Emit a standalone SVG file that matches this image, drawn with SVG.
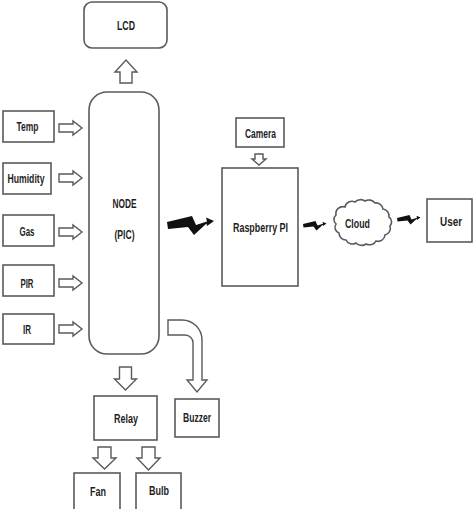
<svg xmlns="http://www.w3.org/2000/svg" xmlns:xlink="http://www.w3.org/1999/xlink" width="474" height="509" viewBox="0 0 474 509">
<style>
.box{fill:#fff;stroke:#5a5a5a;stroke-width:1.6}
.arr{fill:#fff;stroke:#5a5a5a;stroke-width:1.4;stroke-linejoin:miter}
.bolt{fill:#111}
text{font-family:"Liberation Sans",Arial,sans-serif;font-weight:bold;font-size:13px;fill:#1e1e1e;text-anchor:middle}
</style>
<defs>
<path id="bolt" d="M0,6 L25,0 L29,9 L40,5.5 L39,1.5 L47,5 L40,10 L39.5,7.5 L27,19 L21,11 L1,13 Z"/>
<path id="rarr" d="M0,-4 H14 V-7 L23,0 L14,7 V4 H0 Z"/>
<path id="darr" d="M-6,0 H6 V12 H11 L0,23 L-11,12 H-6 Z"/>
</defs>
<rect width="474" height="509" fill="#fff"/>
<g id="connectors">
<path class="arr" d="M120,83 V72 H115 L126,60 L137,72 H132 V83 Z"/>
<use href="#rarr" class="arr" x="59" y="128"/>
<use href="#rarr" class="arr" x="59" y="178"/>
<use href="#rarr" class="arr" x="59" y="232"/>
<use href="#rarr" class="arr" x="59" y="283"/>
<use href="#rarr" class="arr" x="59" y="329"/>
<use href="#darr" class="arr" x="125.5" y="367"/>
<path class="arr" d="M104.5,447 H111 V458 H116 L104.5,469 L93,458 H98 V447 Z"/>
<path class="arr" d="M148.5,447 H155 V458 H160 L148.5,470 L137,458 H142 V447 Z"/>
<path class="arr" d="M255,154 H263 V159 H266 L259,165 L252,159 H255 Z"/>
<path class="arr" d="M168,320 H182 A20,20 0 0 1 202,340 V380 H207 L197,392 L187,380 H193 V343 A8,8 0 0 0 185,335 H168 Z"/>
<use href="#bolt" class="bolt" x="167" y="216"/>
<use href="#bolt" class="bolt" transform="translate(303,221) scale(0.5)"/>
<use href="#bolt" class="bolt" transform="translate(397,215) scale(0.5)"/>
</g>
<g id="lcd"><rect class="box" x="84" y="2" width="83" height="46" rx="8"/><text x="126" y="30" textLength="18" lengthAdjust="spacingAndGlyphs">LCD</text></g>
<g id="node"><rect class="box" x="89" y="92" width="70" height="262" rx="18"/><text x="124.5" y="208" textLength="24" lengthAdjust="spacingAndGlyphs">NODE</text><text x="124.5" y="239" textLength="20" lengthAdjust="spacingAndGlyphs">(PIC)</text></g>
<g id="temp"><rect class="box" x="3" y="111" width="51" height="31"/><text x="27.5" y="131" textLength="22" lengthAdjust="spacingAndGlyphs">Temp</text></g>
<g id="humidity"><rect class="box" x="3" y="163" width="48" height="31"/><text x="26" y="183" textLength="37" lengthAdjust="spacingAndGlyphs">Humidity</text></g>
<g id="gas"><rect class="box" x="3" y="215" width="51" height="31"/><text x="27" y="236" textLength="15" lengthAdjust="spacingAndGlyphs">Gas</text></g>
<g id="pir"><rect class="box" x="3" y="265" width="51" height="31"/><text x="27" y="288" textLength="13" lengthAdjust="spacingAndGlyphs">PIR</text></g>
<g id="ir"><rect class="box" x="3" y="314" width="51" height="30"/><text x="27" y="334" textLength="8" lengthAdjust="spacingAndGlyphs">IR</text></g>
<g id="relay"><rect class="box" x="94" y="396" width="63" height="44"/><text x="126" y="423" textLength="24" lengthAdjust="spacingAndGlyphs">Relay</text></g>
<g id="buzzer"><rect class="box" x="175" y="399" width="44" height="38"/><text x="197" y="422" textLength="28" lengthAdjust="spacingAndGlyphs">Buzzer</text></g>
<g id="fan"><rect class="box" x="74" y="473" width="46" height="44"/><text x="98" y="496" textLength="16" lengthAdjust="spacingAndGlyphs">Fan</text></g>
<g id="bulb"><rect class="box" x="136" y="473" width="45" height="44"/><text x="159" y="495" textLength="20" lengthAdjust="spacingAndGlyphs">Bulb</text></g>
<g id="camera"><rect class="box" x="236" y="118" width="48" height="29"/><text x="260.5" y="138" textLength="31" lengthAdjust="spacingAndGlyphs">Camera</text></g>
<g id="raspberry"><rect class="box" x="222" y="168" width="76" height="118"/><text x="260.5" y="232" textLength="55" lengthAdjust="spacingAndGlyphs">Raspberry PI</text></g>
<g id="cloud"><path class="box" d="M336,215 a7,7 0 0 1 9,-8 a7,7 0 0 1 10,-5 a7,6 0 0 1 10,-1 a7,6 0 0 1 10,2 a7,7 0 0 1 8,6 a7,7 0 0 1 6,8 a6,6 0 0 1 1,9 a7,7 0 0 1 -5,9 a7,7 0 0 1 -9,6 a7,6 0 0 1 -10,3 a7,6 0 0 1 -10,-1 a7,7 0 0 1 -10,-3 a7,7 0 0 1 -7,-7 a6,6 0 0 1 -3,-9 a6,6 0 0 1 0,-9 Z"/><text x="357.5" y="228" textLength="25" lengthAdjust="spacingAndGlyphs">Cloud</text></g>
<g id="user"><rect class="box" x="427" y="199" width="45" height="43"/><text x="451" y="226" textLength="22" lengthAdjust="spacingAndGlyphs">User</text></g>
</svg>
